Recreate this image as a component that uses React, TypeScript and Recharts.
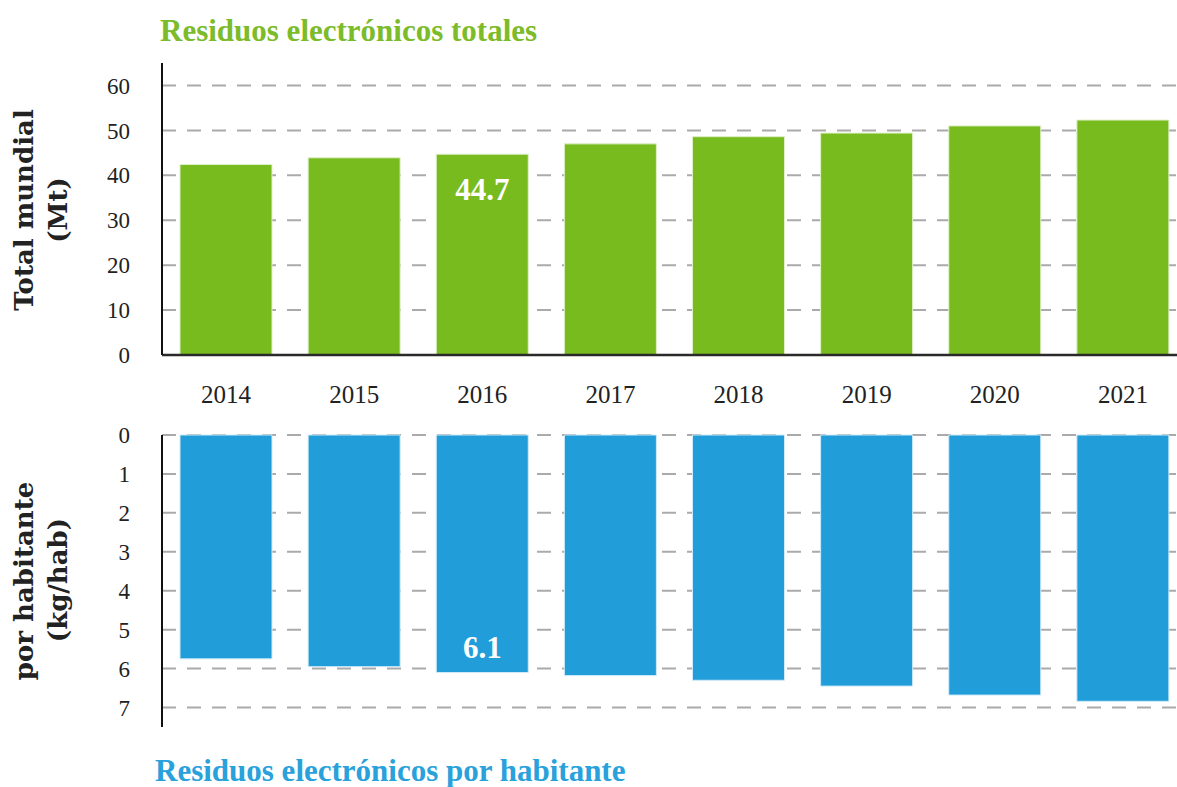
import React from 'react';
import { BarChart, Bar, XAxis, YAxis, CartesianGrid, LabelList } from 'recharts';

const years = ['2014', '2015', '2016', '2017', '2018', '2019', '2020', '2021'];
const totalMt = [42.4, 43.9, 44.7, 47.0, 48.6, 49.4, 51.0, 52.3];
const totalLabels = ['', '', '44.7', '', '', '', '', ''];
const perCapitaKg = [5.75, 5.95, 6.1, 6.18, 6.3, 6.45, 6.68, 6.84];
const perCapitaLabels = ['', '', '6.1', '', '', '', '', ''];
const totalTicks = [0, 10, 20, 30, 40, 50, 60];
const perCapitaTicks = [0, 1, 2, 3, 4, 5, 6, 7];

const GREEN = '#77BB1F';
const BLUE = '#219DD9';
const SERIF = '"Liberation Serif", "DejaVu Serif", serif';
const SLAB = '"DejaVu Serif", serif';

const totalData = years.map((year, i) => ({ year, value: totalMt[i], label: totalLabels[i] }));
const perCapitaData = years.map((year, i) => ({ year, value: perCapitaKg[i], label: perCapitaLabels[i] }));

const tickStyle = { fill: '#222', fontSize: 23, fontFamily: SERIF };

const TopLabel = (props: any) => {
  const { x, y, width, value } = props;
  if (!value) return null;
  return (
    <text
      x={x + width / 2}
      y={y + 35}
      textAnchor="middle"
      dominantBaseline="central"
      fill="#fff"
      fontSize={31}
      fontWeight="bold"
      fontFamily={SERIF}
    >
      {value}
    </text>
  );
};

const BottomLabel = (props: any) => {
  const { x, y, width, height, value } = props;
  if (!value) return null;
  const bottom = Math.max(y, y + height);
  return (
    <text
      x={x + width / 2}
      y={bottom - 25}
      textAnchor="middle"
      dominantBaseline="central"
      fill="#fff"
      fontSize={31}
      fontWeight="bold"
      fontFamily={SERIF}
    >
      {value}
    </text>
  );
};

export default function App() {
  return (
    <div
      style={{
        position: 'absolute',
        left: 0,
        top: 0,
        width: 1177,
        height: 787,
        overflow: 'hidden',
        background: '#fff',
      }}
    >
      <div style={{ position: 'absolute', left: 0, top: 0 }}>
        <BarChart
          width={1187}
          height={415}
          data={totalData}
          margin={{ top: 63, right: 0, bottom: 0, left: 0 }}
          barSize={92}
        >
          <CartesianGrid
            vertical={false}
            syncWithTicks
            horizontalValues={totalTicks}
            stroke="#aaaaaa"
            strokeWidth={2}
            strokeDasharray="14 11"
          />
          <XAxis
            dataKey="year"
            interval={0}
            height={60}
            tickLine={false}
            tickSize={0}
            tickMargin={30}
            axisLine={{ stroke: '#2a2a2a', strokeWidth: 2.5 }}
            tick={{ fill: '#222', fontSize: 25, fontFamily: SERIF }}
          />
          <YAxis
            width={162}
            domain={[0, 65]}
            ticks={totalTicks}
            interval={0}
            tickLine={false}
            tickSize={0}
            tickMargin={32}
            axisLine={{ stroke: '#111', strokeWidth: 2 }}
            tick={tickStyle}
          />
          <Bar dataKey="value" fill={GREEN} stroke="#dff0c8" strokeWidth={1} isAnimationActive={false}>
            <LabelList dataKey="label" content={TopLabel} />
          </Bar>
        </BarChart>
      </div>

      <div style={{ position: 'absolute', left: 0, top: 415 }}>
        <BarChart
          width={1187}
          height={372}
          data={perCapitaData}
          margin={{ top: 20, right: 0, bottom: 60, left: 0 }}
          barSize={92}
        >
          <CartesianGrid
            vertical={false}
            syncWithTicks
            horizontalValues={perCapitaTicks}
            stroke="#aaaaaa"
            strokeWidth={2}
            strokeDasharray="14 11"
          />
          <XAxis
            dataKey="year"
            orientation="top"
            height={0}
            tick={false}
            tickLine={false}
            axisLine={{ stroke: '#2a2a2a', strokeWidth: 2.5 }}
          />
          <YAxis
            width={162}
            reversed
            domain={[0, 7.5]}
            ticks={perCapitaTicks}
            interval={0}
            tickLine={false}
            tickSize={0}
            tickMargin={32}
            axisLine={{ stroke: '#111', strokeWidth: 2 }}
            tick={tickStyle}
          />
          <Bar dataKey="value" fill={BLUE} stroke="#cfeaf8" strokeWidth={1} isAnimationActive={false}>
            <LabelList dataKey="label" content={BottomLabel} />
          </Bar>
        </BarChart>
      </div>

      <svg
        width={1177}
        height={787}
        style={{ position: 'absolute', left: 0, top: 0, pointerEvents: 'none' }}
      >
        <text x={160} y={41} fill="#7CBB29" fontSize={31} fontWeight="bold" fontFamily={SERIF}>
          Residuos electrónicos totales
        </text>
        <text x={155} y={781} fill="#29A1DB" fontSize={31} fontWeight="bold" fontFamily={SERIF}>
          Residuos electrónicos por habitante
        </text>
        <g fill="#222" fontSize={26} fontWeight="bold" fontFamily={SLAB} textAnchor="middle">
          <text x={33} y={210} transform="rotate(-90, 33, 210)">Total mundial</text>
          <text x={67} y={210} transform="rotate(-90, 67, 210)">(Mt)</text>
          <text x={33} y={581} transform="rotate(-90, 33, 581)">por habitante</text>
          <text x={67} y={580} transform="rotate(-90, 67, 580)">(kg/hab)</text>
        </g>
      </svg>
    </div>
  );
}
